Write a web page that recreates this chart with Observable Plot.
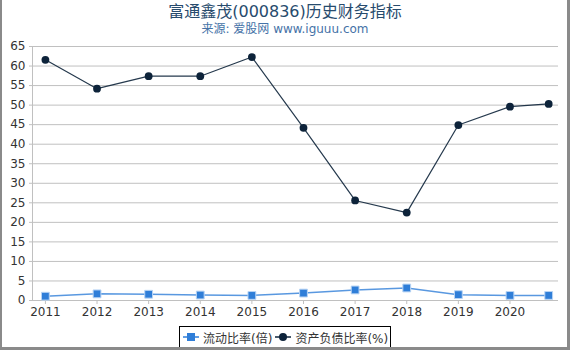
<!DOCTYPE html>
<html><head><meta charset="utf-8">
<script src="https://cdn.jsdelivr.net/npm/d3@7"></script>
<script src="https://cdn.jsdelivr.net/npm/@observablehq/plot@0.6"></script>
<style>
html,body{margin:0;padding:0;background:#fff;}
#wrap{position:relative;width:570px;height:350px;overflow:hidden;font-family:"DejaVu Sans","Noto Sans CJK SC",sans-serif;}
#title{position:absolute;left:0;top:2px;width:570px;text-align:center;font-size:16px;color:#274b6d;line-height:20px;}
#sub{position:absolute;left:0;top:21px;width:570px;text-align:center;font-size:12px;color:#4572a7;line-height:16px;}
#chart{position:absolute;left:0;top:40px;}
#legend{position:absolute;left:179px;top:326px;width:210px;height:20px;border:1px solid #000;background:#fff;font-size:12px;color:#333;display:flex;align-items:center;}
.item{display:flex;align-items:center;margin-left:3px;}
.item span{margin-left:4px;}
#bl{position:absolute;left:0;top:0;width:2px;height:350px;background:#8a8a8a;}
#br{position:absolute;left:567px;top:0;width:3px;height:350px;background:#8a8a8a;}
#bb{position:absolute;left:0;top:347px;width:570px;height:3px;background:#8a8a8a;}
</style></head>
<body><div id="wrap">
<div id="title">富通鑫茂(000836)历史财务指标</div>
<div id="sub">来源: 爱股网 www.iguuu.com</div>
<div id="chart"></div>
<div id="legend"></div>
<div id="bl"></div><div id="br"></div><div id="bb"></div>
</div>
<script>
const periods = [2011, 2012, 2013, 2014, 2015, 2016, 2017, 2018, 2019, 2020, 2020.75];
const tickYears = [2011, 2012, 2013, 2014, 2015, 2016, 2017, 2018, 2019, 2020];
const tickLabels = ["2011","2012","2013","2014","2015","2016","2017","2018","2019","2020"];
const yTicks = [0,5,10,15,20,25,30,35,40,45,50,55,60,65];
const currentRatio = [1.1, 1.7, 1.6, 1.4, 1.3, 1.9, 2.7, 3.2, 1.5, 1.3, 1.3];
const debtRatio = [61.6, 54.2, 57.4, 57.4, 62.3, 44.2, 25.6, 22.5, 44.9, 49.6, 50.3];
const seriesNames = ["流动比率(倍)", "资产负债比率(%)"];
const colors = ["#2f7ed8", "#0d233a"];

const cr = periods.map((p,i)=>({x:p, y:currentRatio[i]}));
const dr = periods.map((p,i)=>({x:p, y:debtRatio[i]}));

const chart = Plot.plot({
  width: 570, height: 282,
  marginLeft: 32, marginRight: 12, marginTop: 6, marginBottom: 22,
  style: {fontFamily: '"DejaVu Sans","Noto Sans CJK SC",sans-serif', fontSize: "12px", color: "#333", background: "transparent"},
  x: {domain: [2010.75, 2020.94], label: null},
  y: {domain: [0, 65], label: null},
  marks: [
    Plot.gridY(yTicks.filter(v=>v>0), {stroke: "#c0c0c0", strokeOpacity: 1, strokeWidth: 1}),
    Plot.ruleX([2010.75], {stroke: "#c0c0c0", strokeWidth: 1}),
    Plot.axisY({ticks: yTicks, tickSize: 3, tickPadding: 4, stroke: "#c0c0c0", fill: "#333", fontSize: 12}),
    Plot.ruleY([0], {stroke: "#c0c0c0", strokeWidth: 1}),
    Plot.axisX({ticks: tickYears, tickFormat: (d)=>tickLabels[tickYears.indexOf(d)], tickSize: 4, tickPadding: 3, stroke: "#c0c0c0", fill: "#333", fontSize: 12}),
    Plot.line(cr, {x:"x", y:"y", stroke: colors[0], strokeWidth: 1.5, strokeOpacity: 0.8}),
    Plot.dot(cr, {x:"x", y:"y", symbol: "square", r: 4.4, fill: colors[0], stroke: "#b8d4f4", strokeWidth: 1}),
    Plot.line(dr, {x:"x", y:"y", stroke: colors[1], strokeWidth: 1.2, strokeOpacity: 0.9}),
    Plot.dot(dr, {x:"x", y:"y", symbol: "circle", r: 3.9, fill: colors[1], stroke: "none"})
  ]
});
document.getElementById("chart").appendChild(chart);

const leg = document.getElementById("legend");
seriesNames.forEach((name,i)=>{
  const it = document.createElement("div");
  it.className = "item";
  const sym = i===0
    ? `<rect x="4" y="3" width="8" height="8" fill="${colors[0]}"/>`
    : `<circle cx="8" cy="7" r="4" fill="${colors[1]}"/>`;
  it.innerHTML = `<svg width="16" height="14"><line x1="0" y1="7" x2="16" y2="7" stroke="${colors[i]}" stroke-width="1.5"/>${sym}</svg><span>${name}</span>`;
  leg.appendChild(it);
});
</script>
</body></html>
